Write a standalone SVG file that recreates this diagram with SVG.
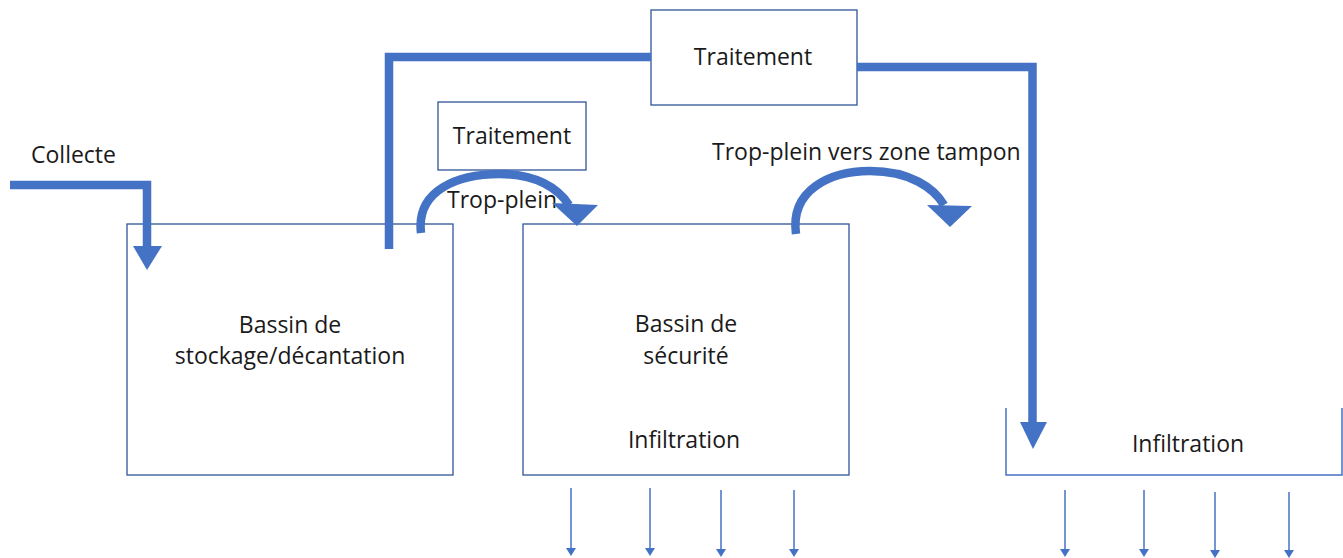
<svg xmlns="http://www.w3.org/2000/svg" width="1343" height="558" viewBox="0 0 1343 558">
<style>
.box{fill:#fff;stroke:#2F5597;stroke-width:1.3}
.pipe{fill:none;stroke:#4472C4;stroke-width:8.5}
.head{fill:#4472C4}
.thin{stroke:#4472C4;stroke-width:1.5;fill:none}
text{font-family:"Open Sans","Noto Sans","Liberation Sans",sans-serif;font-size:23px;fill:#1a1a1a}
</style>
<rect width="1343" height="558" fill="#fff"/>
<g id="bassin-stockage">
<rect class="box" x="127" y="224" width="326" height="251"/>
<text x="290" y="333" text-anchor="middle">Bassin de</text>
<text x="290" y="364" text-anchor="middle">stockage/décantation</text>
</g>
<g id="bassin-securite">
<rect class="box" x="523" y="224" width="326" height="251"/>
<text x="686" y="332" text-anchor="middle">Bassin de</text>
<text x="686" y="364" text-anchor="middle">sécurité</text>
<text x="684" y="448" text-anchor="middle">Infiltration</text>
</g>
<g id="traitement-petit">
<rect class="box" x="438" y="102" width="148" height="68"/>
<text x="512" y="144" text-anchor="middle">Traitement</text>
</g>
<g id="traitement-haut">
<rect class="box" x="651" y="10" width="206" height="95"/>
<text x="753" y="65" text-anchor="middle">Traitement</text>
</g>
<g id="infiltration-zone">
<path d="M1006,408 V475 H1342 V408" fill="none" stroke="#4472C4" stroke-width="1.5"/>
<text x="1188" y="452" text-anchor="middle">Infiltration</text>
</g>
<g id="labels">
<text x="31" y="163">Collecte</text>
<text x="447" y="208">Trop-plein</text>
<text x="712" y="160">Trop-plein vers zone tampon</text>
</g>
<g id="connectors">
<path class="pipe" d="M10,185 H147 V247"/>
<path class="head" d="M133,246 H162 L147,270 Z"/>
<path class="pipe" d="M389,249 V57 H651"/>
<path class="pipe" d="M857,67 H1032.5 V423"/>
<path class="head" d="M1020,422 H1047 L1033,449 Z"/>
<path class="pipe" d="M421,233 C416,190 458,174 500,174 C536,174 558,188 569,205"/>
<path class="head" d="M552,203 L598,205 L577,226 Z"/>
<path class="pipe" d="M796,234 C790,190 830,171 870,171 C910,171 934,188 944,205"/>
<path class="head" d="M927,205 L972,206 L950,227 Z"/>
<g class="thin">
<line x1="571" y1="488" x2="571" y2="550"/>
<line x1="650" y1="488" x2="650" y2="550"/>
<line x1="721" y1="490" x2="721" y2="551"/>
<line x1="794" y1="490" x2="794" y2="551"/>
<line x1="1065" y1="490" x2="1065" y2="551"/>
<line x1="1144" y1="490" x2="1144" y2="551"/>
<line x1="1215" y1="492" x2="1215" y2="552"/>
<line x1="1289" y1="492" x2="1289" y2="552"/>
</g>
<g class="head">
<path d="M566,548 H576 L571,556 Z"/>
<path d="M645,548 H655 L650,556 Z"/>
<path d="M716,549 H726 L721,557 Z"/>
<path d="M789,549 H799 L794,557 Z"/>
<path d="M1060,549 H1070 L1065,557 Z"/>
<path d="M1139,549 H1149 L1144,557 Z"/>
<path d="M1210,550 H1220 L1215,558 Z"/>
<path d="M1284,550 H1294 L1289,558 Z"/>
</g>
</g>
</svg>
